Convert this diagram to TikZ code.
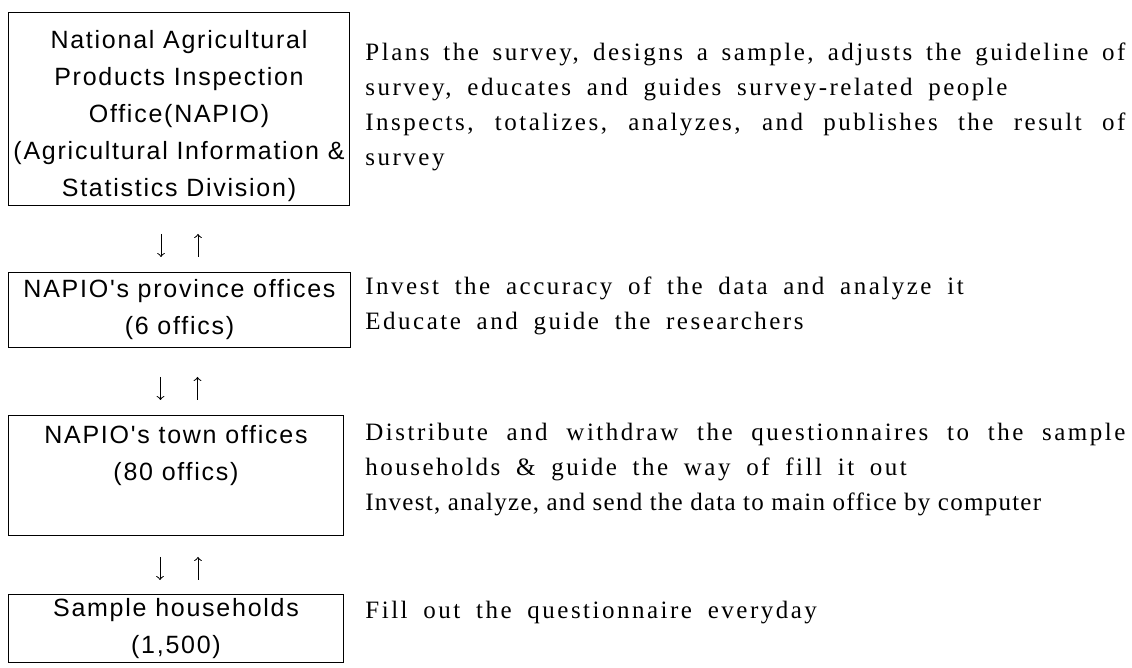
\documentclass[tikz,border=0pt]{standalone}
\usepackage{fontspec}
\setmainfont[LetterSpace=10, WordSpace=1.8]{Liberation Serif}
\newfontfamily\officefont[LetterSpace=7]{Liberation Sans}
\newfontfamily\narrowfont[LetterSpace=5]{Liberation Serif}
\usetikzlibrary{positioning}

\begin{document}
\begin{tikzpicture}[x=0.5pt, y=-0.5pt,
    office/.style={draw, line width=0.5pt, anchor=north west, inner sep=0pt},
    officetext/.style={align=center, inner sep=0pt, font=\officefont\fontsize{12.5}{18.5}\selectfont},
    duty/.style={anchor=base west, text width=380pt, align=justify, inner sep=0pt, font=\fontsize{12.5}{17.5}\selectfont},
    flow/.style={->, line width=0.5pt}]
    \useasboundingbox (0,0) rectangle (1132,668);

    \coordinate (O1) at (8, 12);
    \coordinate (O2) at (8, 272);
    \coordinate (O3) at (8, 415);
    \coordinate (O4) at (8, 594);

    \node [office, minimum width=170.5pt, minimum height=96.5pt] (napio) at (O1) {};
    \node [office, minimum width=171pt, minimum height=37.5pt] (province) at (O2) {};
    \node [office, minimum width=167.5pt, minimum height=60pt] (town) at (O3) {};
    \node [office, minimum width=167.5pt, minimum height=34pt] (household) at (O4) {};

    \node [officetext] (napiotext) at ([yshift=-3.5pt]napio.center)
    {National Agricultural\\Products Inspection\\Office(NAPIO)\\(Agricultural Information \&\\Statistics Division)};
    \node [officetext] (provincetext) at (province.center) {NAPIO's province offices\\(6 offics)};
    \node [officetext, below=5pt of town.north] (towntext) {NAPIO's town offices\\(80 offics)};
    \node [officetext] (householdtext) at (household.center) {Sample households\\(1,500)};

    % what each level does
    \node [duty] (napioduty) at (365, 61)
    {Plans the survey, designs a sample, adjusts the guideline of\linebreak
     survey, educates and guides survey-related people\par
     Inspects, totalizes, analyzes, and publishes the result of\linebreak
     survey};
    \node [duty] (provinceduty) at (365, 295)
    {Invest the accuracy of the data and analyze it\par
     Educate and guide the researchers};
    \node [duty] (townduty) at (365, 441)
    {Distribute and withdraw the questionnaires to the sample\linebreak
     households \& guide the way of fill it out\par
     {\narrowfont Invest, analyze, and send the data to main office by computer}};
    \node [duty] (householdduty) at (365, 619) {Fill out the questionnaire everyday};

    % down and up between levels
    \draw [flow, shorten <=14pt, shorten >=7.5pt] ([xshift=-9pt]napio.south) -- ([xshift=-9pt]napio.south |- province.north);
    \draw [flow, shorten <=7.5pt, shorten >=14pt] ([xshift=9.5pt]napio.south |- province.north) -- ([xshift=9.5pt]napio.south);
    \draw [flow, shorten <=14.5pt, shorten >=7.5pt] ([xshift=-9.5pt]province.south) -- ([xshift=-9.5pt]province.south |- town.north);
    \draw [flow, shorten <=7.5pt, shorten >=14.5pt] ([xshift=9pt]province.south |- town.north) -- ([xshift=9pt]province.south);
    \draw [flow, shorten <=10.5pt, shorten >=7pt] ([xshift=-8pt]town.south) -- ([xshift=-8pt]town.south |- household.north);
    \draw [flow, shorten <=7pt, shorten >=10.5pt] ([xshift=11pt]town.south |- household.north) -- ([xshift=11pt]town.south);
\end{tikzpicture}
\end{document}
